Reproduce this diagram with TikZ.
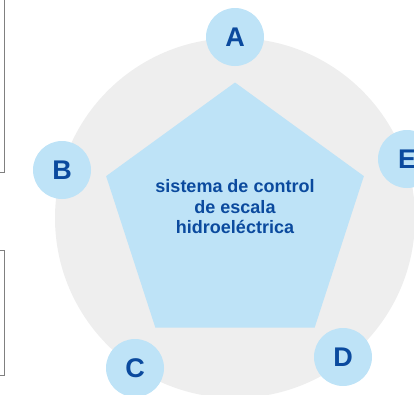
\documentclass[tikz,border=0pt]{standalone}
\usepackage{fontspec}
\setmainfont{Liberation Sans}
\usetikzlibrary{shapes.geometric}

\definecolor{ringgray}{HTML}{EEEEEE}
\definecolor{paleblue}{HTML}{BEE3F7}
\definecolor{inkblue}{HTML}{0B4A9E}

\begin{document}
\begin{tikzpicture}[
    x=1pt, y=-1pt,
    ring/.style={circle, fill=ringgray, minimum size=360pt, inner sep=0pt},
    hub/.style={regular polygon, regular polygon sides=5, fill=paleblue, minimum size=271pt, inner sep=0pt, outer sep=0pt},
    hubtext/.style={font=\bfseries\fontsize{18}{20.5}\selectfont, text=inkblue, align=center},
    badge/.style={circle, fill=paleblue, minimum size=58pt, inner sep=0pt, font=\bfseries\fontsize{27}{27}\selectfont, text=inkblue}
]
\useasboundingbox (0,0) rectangle (414,394);
\clip (0,0) rectangle (414,394);
% side boxes, cut off at the border
\draw[gray, line width=0.8pt] (-20,-20) rectangle (4.7,172.7);
\draw[gray, line width=0.8pt] (-20,250.7) rectangle (4.7,375);
\node[ring] (ring) at (235,218) {};
\node[hub] (hub) at (235,218) {};
\node[hubtext] (title) at (235,207) {sistema de control\\de escala\\hidroeléctrica};
\node[badge] (A) at (235,37) {A};
\node[badge] (B) at (62,170) {B};
\node[badge] (C) at (135,368) {C};
\node[badge] (D) at (343,357) {D};
\node[badge] (E) at (407,159) {E};
\end{tikzpicture}
\end{document}
